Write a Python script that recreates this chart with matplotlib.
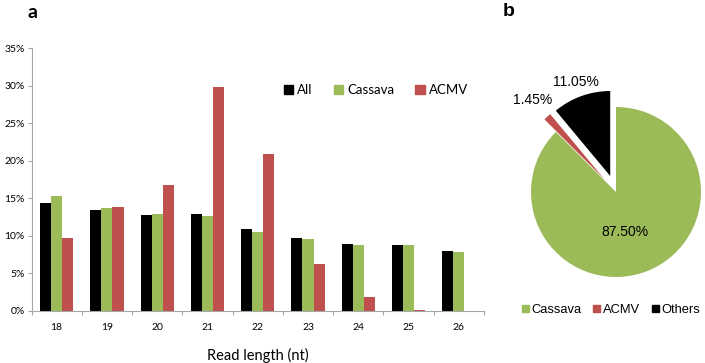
#!/usr/bin/env python3
import matplotlib
matplotlib.use("Agg")
import matplotlib.pyplot as plt
import numpy as np
from matplotlib.patches import Patch

# read length distribution (percent of reads)
lengths = ["18", "19", "20", "21", "22", "23", "24", "25", "26"]
all_reads = [14.35, 13.45, 12.75, 12.85, 10.9, 9.7, 8.9, 8.8, 7.95]
cassava = [15.3, 13.75, 12.95, 12.6, 10.5, 9.55, 8.75, 8.75, 7.85]
acmv = [9.75, 13.85, 16.8, 29.85, 20.9, 6.3, 1.9, 0.12, 0.06]
series_names = ["All", "Cassava", "ACMV"]

# pie shares
pie_labels = ["Cassava", "ACMV", "Others"]
pie_values = [87.50, 1.45, 11.05]

BLACK = "#000000"
GREEN = "#9BBB59"
RED = "#C0504D"
SPINE = "#A6A6A6"

W, H = 705, 363
fig = plt.figure(figsize=(W / 100, H / 100), dpi=100)

# ---- panel a ----
font_a = ["Lato", "DejaVu Sans"]
ax = fig.add_axes([31.5 / W, 1 - 311 / H, 452.5 / W, 263 / H])
x = np.arange(len(lengths))
width = 0.22
for offset, vals, color, name in zip((-width, 0, width), (all_reads, cassava, acmv),
                                     (BLACK, GREEN, RED), series_names):
    ax.bar(x + offset, vals, width, color=color, label=name)

ax.set_xlim(-0.5, len(lengths) - 0.5)
ax.set_ylim(0, 35)
ax.set_yticks(np.arange(0, 36, 5))
ax.set_yticklabels([f"{v}%" for v in range(0, 36, 5)], fontsize=7.5, family=font_a)
ax.set_xticks(x)
ax.set_xticklabels(lengths, fontsize=7.5, family=font_a)
ax.set_xticks(np.arange(-0.5, len(lengths)), minor=True)
ax.tick_params(axis="x", which="major", length=0, pad=9)
ax.tick_params(axis="x", which="minor", length=3, color=SPINE, width=0.8)
ax.tick_params(axis="y", length=3, color=SPINE, width=0.8, pad=2)
for side in ("top", "right"):
    ax.spines[side].set_visible(False)
for side in ("left", "bottom"):
    ax.spines[side].set_color(SPINE)
    ax.spines[side].set_linewidth(0.8)
ax.set_xlabel("Read length (nt)", fontsize=10.5, family=font_a, labelpad=11)

fig.legend(handles=[Patch(color=c, label=n) for c, n in zip((BLACK, GREEN, RED), series_names)],
           loc="center", bbox_to_anchor=(376 / W, 1 - 90 / H), ncol=3, frameon=False,
           handlelength=0.7, handleheight=0.7, handletextpad=0.3, columnspacing=1.6,
           prop={"family": font_a, "size": 9.5})

fig.text(27 / W, 1 - 12 / H, "a", fontsize=14, fontweight="bold", family=font_a, va="center")

# ---- panel b ----
font_b = ["Liberation Sans", "DejaVu Sans"]
cx, cy, r = 616, 192, 85
left, right, top, bottom = 495, 705, 40, 290
pax = fig.add_axes([left / W, 1 - bottom / H, (right - left) / W, (bottom - top) / H])
wedges, _, autotexts = pax.pie(pie_values, colors=[GREEN, RED, BLACK], startangle=90,
                               counterclock=False, explode=[0, 0.2, 0.2],
                               autopct="%.2f%%", pctdistance=0.5,
                               textprops={"fontsize": 10, "family": font_b})
pax.set_xlim((left - cx) / r, (right - cx) / r)
pax.set_ylim((cy - bottom) / r, (cy - top) / r)
pax.set_aspect("equal", adjustable="box")

# move the small-slice labels outside, like the original
for wedge, txt, dist in zip(wedges, autotexts, (0.5, 1.26, 1.18)):
    c = np.array(wedge.center)
    p = np.array(txt.get_position())
    txt.set_position(c + (p - c) * dist / 0.5)
autotexts[0].set_position((0.1, -0.47))

fig.legend(handles=[Patch(color=c, label=n) for c, n in zip((GREEN, RED, BLACK), pie_labels)],
           loc="center", bbox_to_anchor=(611 / W, 1 - 310 / H), ncol=3, frameon=False,
           handlelength=0.55, handleheight=0.55, handletextpad=0.2, columnspacing=0.9,
           borderpad=0.2, prop={"family": font_b, "size": 9.3})

fig.text(503 / W, 1 - 11 / H, "b", fontsize=14, fontweight="bold", family=font_b, va="center")

fig.savefig("out.png", dpi=100)
